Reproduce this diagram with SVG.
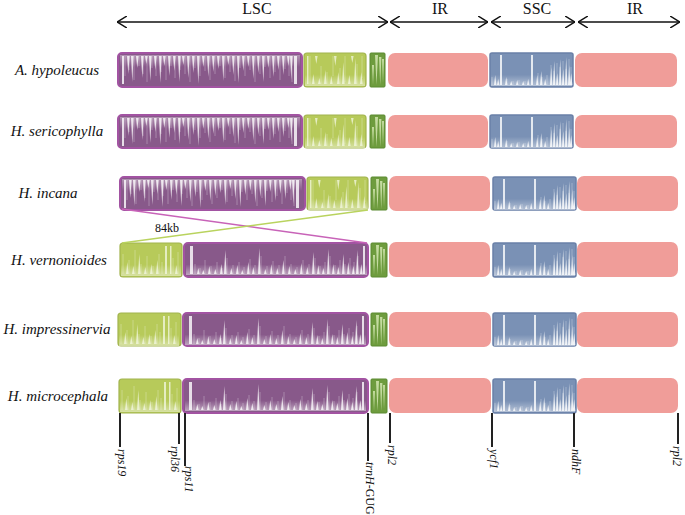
<svg xmlns="http://www.w3.org/2000/svg" width="685" height="515" viewBox="0 0 685 515">
<style>
.lbl{font-family:"Liberation Serif",serif;font-style:italic;font-size:15px;fill:#111}
.hdr{font-family:"Liberation Serif",serif;font-size:16px;fill:#111;text-anchor:middle}
.gene{font-family:"Liberation Serif",serif;font-style:italic;font-size:12px;fill:#111}
.pur{fill:#88598a;stroke:#a253a2;stroke-width:2}
.grn{fill:#b7ca5a;stroke:#a2b44e;stroke-width:1.2}
.dg{fill:#6e9c3e;stroke:#5a8a30;stroke-width:1}
.pk{fill:#f09d99}
.bl{fill:#7a91b5;stroke:#6a80a8;stroke-width:1.5}
.tex{fill:#fff;opacity:0.8}
.texg{fill:#f4f8e4;opacity:0.75}
.thin{stroke:#fff;stroke-width:0.8;opacity:0.35}
.arr{stroke:#111;stroke-width:1.5;fill:none}
.tick{stroke:#222;stroke-width:2}
</style>
<defs>
<marker id="chev" viewBox="0 0 10 12" refX="10" refY="6" markerWidth="10" markerHeight="12" markerUnits="userSpaceOnUse" orient="auto-start-reverse">
<path d="M0,0 L10,6 L0,12" fill="none" stroke="#111" stroke-width="1.5"/>
</marker>
<linearGradient id="gTop" x1="0" y1="0" x2="0" y2="1">
<stop offset="0" stop-color="#fff" stop-opacity="0.35"/>
<stop offset="0.4" stop-color="#fff" stop-opacity="0"/>
</linearGradient>
<linearGradient id="gBot" x1="0" y1="0" x2="0" y2="1">
<stop offset="0.65" stop-color="#fff" stop-opacity="0"/>
<stop offset="1" stop-color="#fff" stop-opacity="0.45"/>
</linearGradient>
<g id="texPA">
<rect x="2" y="2" width="180" height="30" fill="url(#gTop)"/>
<path class="thin" d="M7,3v20 M11,3v14 M16,3v24 M21,3v10 M25,3v18 M29,3v26 M34,3v12 M38,3v20 M43,3v16 M48,3v24 M53,3v10 M57,3v22 M62,3v14 M67,3v18 M72,3v26 M77,3v12 M82,3v20 M87,3v15 M92,3v24 M97,3v18 M102,3v10 M107,3v22 M112,3v16 M117,3v25 M122,3v12 M127,3v20 M132,3v14 M137,3v26 M142,3v18 M147,3v11 M152,3v22 M157,3v16 M162,3v24 M167,3v13 M171,3v20 M174,3v26"/>
<path class="tex" d="M4,3h2v28h-2z M176,3h3v28h-3z M9,3l1.3,18l1.3,-18z M13,3l1.3,26l1.3,-26z M18,3l1.3,12l1.3,-12z M23,3l1.3,22l1.3,-22z M27,3l1.3,8l1.3,-8z M31,3l1.3,25l1.3,-25z M36,3l1.3,14l1.3,-14z M41,3l1.3,27l1.3,-27z M45,3l1.3,10l1.3,-10z M50,3l1.3,20l1.3,-20z M55,3l1.3,15l1.3,-15z M60,3l1.3,26l1.3,-26z M64,3l1.3,9l1.3,-9z M69,3l1.3,22l1.3,-22z M74,3l1.3,17l1.3,-17z M79,3l1.3,28l1.3,-28z M84,3l1.3,11l1.3,-11z M89,3l1.3,21l1.3,-21z M94,3l1.3,16l1.3,-16z M99,3l1.3,13l1.3,-13z M104,3l1.3,25l1.3,-25z M109,3l1.3,9l1.3,-9z M114,3l1.3,19l1.3,-19z M119,3l1.3,27l1.3,-27z M124,3l1.3,15l1.3,-15z M129,3l1.3,11l1.3,-11z M134,3l1.3,23l1.3,-23z M139,3l1.3,17l1.3,-17z M144,3l1.3,26l1.3,-26z M149,3l1.3,12l1.3,-12z M154,3l1.3,21l1.3,-21z M159,3l1.3,14l1.3,-14z M164,3l1.3,19l1.3,-19z M169,3l1.3,10l1.3,-10z M172,3l1.3,24l1.3,-24z"/>
</g>
<g id="texPB">
<rect x="2" y="2" width="181" height="30" fill="url(#gBot)"/>
<path class="thin" d="M11,31v-10 M16,31v-6 M21,31v-14 M27,31v-8 M33,31v-12 M38,31v-6 M43,31v-16 M49,31v-9 M55,31v-12 M60,31v-7 M66,31v-15 M71,31v-9 M77,31v-18 M83,31v-8 M89,31v-13 M95,31v-9 M101,31v-18 M107,31v-10 M113,31v-7 M119,31v-14 M125,31v-10 M131,31v-16 M136,31v-8 M141,31v-12 M146,31v-18 M151,31v-9 M156,31v-14 M161,31v-10 M166,31v-16 M170,31v-12 M174,31v-18"/>
<path class="tex" d="M6,3h3v28h-3z M179,3h2v28h-2z M13,31l1.3,-6l1.3,6z M18,31l1.3,-4l1.3,4z M24,31l1.3,-8l1.3,8z M30,31l1.3,-5l1.3,5z M36,31l1.3,-10l1.3,10z M40,31l1.3,-24l1.3,24z M46,31l1.3,-6l1.3,6z M52,31l1.3,-9l1.3,9z M57,31l1.3,-4l1.3,4z M63,31l1.3,-12l1.3,12z M68,31l1.3,-7l1.3,7z M74,31l1.3,-26l1.3,26z M80,31l1.3,-5l1.3,5z M86,31l1.3,-10l1.3,10z M92,31l1.3,-6l1.3,6z M98,31l1.3,-14l1.3,14z M104,31l1.3,-8l1.3,8z M110,31l1.3,-5l1.3,5z M116,31l1.3,-11l1.3,11z M122,31l1.3,-7l1.3,7z M128,31l1.3,-22l1.3,22z M133,31l1.3,-9l1.3,9z M138,31l1.3,-6l1.3,6z M143,31l1.3,-25l1.3,25z M148,31l1.3,-10l1.3,10z M153,31l1.3,-7l1.3,7z M158,31l1.3,-20l1.3,20z M163,31l1.3,-12l1.3,12z M168,31l1.3,-8l1.3,8z M172,31l1.3,-24l1.3,24z M176,31l1.3,-10l1.3,10z"/>
</g>
<g id="texGA">
<rect x="1" y="1" width="60" height="32" fill="url(#gBot)"/>
<path class="thin" d="M6,3v28 M17,31v-18 M23,31v-12 M29,3v20 M36,31v-16 M41,3v26 M53,31v-20 M58,3v22"/>
<path class="texg" d="M3,3h1.5v28h-1.5z M8,31l1.3,-10l1.3,10z M14,31l1.3,-6l1.3,6z M20,31l1.3,-14l1.3,14z M26,31l1.3,-8l1.3,8z M33,31l1.3,-12l1.3,12z M38,31l1.3,-22l1.3,22z M44,31l1.3,-9l1.3,9z M50,31l1.3,-26l1.3,26z M56,31l1.3,-12l1.3,12z M11,3l1.3,8l1.3,-8z M30,3l1.3,10l1.3,-10z M47,3l1.3,7l1.3,-7z"/>
</g>
<g id="texGB">
<rect x="1" y="1" width="60" height="32" fill="url(#gBot)"/>
<path class="thin" d="M3,31v-20 M9,31v-14 M15,31v-24 M21,31v-10 M27,31v-18 M33,31v-8 M39,31v-20 M42,31v-12 M53,31v-16 M58,31v-22"/>
<path class="texg" d="M45,3h2v28h-2z M50,3h1.5v28h-1.5z M6,31l1.3,-12l1.3,12z M12,31l1.3,-8l1.3,8z M18,31l1.3,-20l1.3,20z M24,31l1.3,-7l1.3,7z M30,31l1.3,-10l1.3,10z M36,31l1.3,-14l1.3,14z M55,31l1.3,-9l1.3,9z"/>
</g>
<g id="texBL">
<rect x="1" y="1" width="81" height="32" fill="url(#gBot)"/>
<path class="thin" d="M2,32v-8 M17,32v-6 M23,32v-4 M29,32v-5 M35,32v-4 M48,32v-12 M52,32v-8 M57,32v-10 M61,32v-20 M64,32v-14 M67,32v-22 M70,32v-18 M73,32v-24 M76,32v-16 M79,32v-26 M81,32v-18"/>
<path class="tex" d="M10,2h2v30h-2z M41,2h2v30h-2z M4,32l1.2,-10l1.2,10z M7,32l1.2,-6l1.2,6z M15,32l1.2,-8l1.2,8z M20,32l1.2,-4l1.2,4z M26,32l1.2,-5l1.2,5z M32,32l1.2,-4l1.2,4z M37,32l1.2,-6l1.2,6z M46,32l1.2,-10l1.2,10z M50,32l1.2,-14l1.2,14z M54,32l1.2,-6l1.2,6z M60,32l1.2,-18l1.2,18z M63,32l1.2,-24l1.2,24z M66,32l1.2,-12l1.2,12z M69,32l1.2,-26l1.2,26z M72,32l1.2,-16l1.2,16z M75,32l1.2,-28l1.2,28z M78,32l1.2,-20l1.2,20z M80,32l1.2,-12l1.2,12z"/>
</g>
<g id="texDG">
<path fill="#d4e6b2" opacity="0.85" d="M5,2l1.5,30l1.5,-30z M9,4l1.2,28l1.2,-28z M12,6l1,24l1,-24z M2,12l1,20l1,-20z"/>
</g>
</defs>
<rect width="685" height="515" fill="#fff"/>

<g id="header">
<line class="arr" x1="117" y1="22" x2="388" y2="22" marker-start="url(#chev)" marker-end="url(#chev)"/>
<line class="arr" x1="390" y1="22" x2="488" y2="22" marker-start="url(#chev)" marker-end="url(#chev)"/>
<line class="arr" x1="491" y1="22" x2="575" y2="22" marker-start="url(#chev)" marker-end="url(#chev)"/>
<line class="arr" x1="578" y1="22" x2="680" y2="22" marker-start="url(#chev)" marker-end="url(#chev)"/>
<text class="hdr" x="257" y="14">LSC</text>
<text class="hdr" x="440" y="14">IR</text>
<text class="hdr" x="537" y="14">SSC</text>
<text class="hdr" x="635" y="14">IR</text>
</g>

<g id="row1">
<text class="lbl" x="57" y="75" text-anchor="middle">A. hypoleucus</text>
<rect class="pur" x="118" y="53" width="184" height="34" rx="4"/><use href="#texPA" x="118" y="53"/>
<rect class="grn" x="304" y="53" width="62" height="34" rx="3"/><use href="#texGA" x="304" y="53"/>
<rect class="dg" x="370" y="53" width="15" height="34" rx="1"/><use href="#texDG" x="370" y="53"/>
<rect class="pk" x="388" y="53" width="100" height="34" rx="7"/>
<rect class="bl" x="490" y="53" width="83" height="34" rx="2"/><use href="#texBL" x="490" y="53"/>
<rect class="pk" x="575" y="53" width="102" height="34" rx="7"/>
</g>

<g id="row2">
<text class="lbl" x="57" y="136" text-anchor="middle">H. sericophylla</text>
<rect class="pur" x="118" y="115" width="184" height="33" rx="4"/><use href="#texPA" x="118" y="115"/>
<rect class="grn" x="304" y="115" width="62" height="33" rx="3"/><use href="#texGA" x="304" y="115"/>
<rect class="dg" x="370" y="115" width="15" height="33" rx="1"/><use href="#texDG" x="370" y="115"/>
<rect class="pk" x="388" y="115" width="100" height="33" rx="7"/>
<rect class="bl" x="490" y="115" width="83" height="33" rx="2"/><use href="#texBL" x="490" y="115"/>
<rect class="pk" x="575" y="115" width="102" height="33" rx="7"/>
</g>

<g id="row3">
<text class="lbl" x="48" y="198" text-anchor="middle">H. incana</text>
<rect class="pur" x="120" y="177" width="185" height="33" rx="4"/><use href="#texPA" x="120" y="177"/>
<rect class="grn" x="307" y="177" width="61" height="33" rx="3"/><use href="#texGA" x="307" y="177"/>
<rect class="dg" x="371" y="177" width="16" height="33" rx="1"/><use href="#texDG" x="371" y="177"/>
<rect class="pk" x="389" y="176" width="101" height="35" rx="7"/>
<rect class="bl" x="493" y="177" width="83" height="33" rx="2"/><use href="#texBL" x="493" y="177"/>
<rect class="pk" x="577" y="176" width="101" height="35" rx="7"/>
</g>

<g id="row4">
<text class="lbl" x="59" y="265" text-anchor="middle">H. vernonioides</text>
<rect class="grn" x="120" y="243" width="62" height="34" rx="3"/><use href="#texGB" x="120" y="243"/>
<rect class="pur" x="184" y="243" width="184" height="34" rx="4"/><use href="#texPB" x="184" y="243"/>
<rect class="dg" x="371" y="243" width="16" height="34" rx="1"/><use href="#texDG" x="371" y="243"/>
<rect class="pk" x="389" y="242" width="101" height="35" rx="7"/>
<rect class="bl" x="493" y="243" width="83" height="34" rx="2"/><use href="#texBL" x="493" y="243"/>
<rect class="pk" x="577" y="242" width="101" height="35" rx="7"/>
</g>

<g id="row5">
<text class="lbl" x="57" y="334" text-anchor="middle">H. impressinervia</text>
<rect class="grn" x="118" y="313" width="63" height="33" rx="3"/><use href="#texGB" x="118" y="313"/>
<rect class="pur" x="183" y="313" width="185" height="33" rx="4"/><use href="#texPB" x="183" y="313"/>
<rect class="dg" x="371" y="313" width="16" height="33" rx="1"/><use href="#texDG" x="371" y="313"/>
<rect class="pk" x="389" y="312" width="102" height="35" rx="7"/>
<rect class="bl" x="493" y="313" width="83" height="33" rx="2"/><use href="#texBL" x="493" y="313"/>
<rect class="pk" x="577" y="312" width="101" height="35" rx="7"/>
</g>

<g id="row6">
<text class="lbl" x="58" y="401" text-anchor="middle">H. microcephala</text>
<rect class="grn" x="119" y="379" width="62" height="34" rx="3"/><use href="#texGB" x="119" y="379"/>
<rect class="pur" x="183" y="379" width="185" height="34" rx="4"/><use href="#texPB" x="183" y="379"/>
<rect class="dg" x="371" y="379" width="16" height="34" rx="1"/><use href="#texDG" x="371" y="379"/>
<rect class="pk" x="389" y="378" width="102" height="35" rx="7"/>
<rect class="bl" x="493" y="379" width="83" height="34" rx="2"/><use href="#texBL" x="493" y="379"/>
<rect class="pk" x="577" y="378" width="101" height="35" rx="7"/>
</g>

<g id="connectors">
<line x1="122" y1="209" x2="367" y2="243" stroke="#c863b8" stroke-width="1.5"/>
<line x1="368" y1="210" x2="122" y2="243" stroke="#b9d35e" stroke-width="1.5"/>
<text x="155" y="232" font-family="Liberation Serif, serif" font-size="12" fill="#111">84kb</text>
</g>

<g id="genes">
<line class="tick" x1="120" y1="413" x2="120" y2="447"/>
<text class="gene" transform="translate(122,449) rotate(90)" dominant-baseline="central">rps19</text>
<line class="tick" x1="179" y1="413" x2="179" y2="444"/>
<text class="gene" transform="translate(175,446) rotate(90)" dominant-baseline="central">rpl36</text>
<line class="tick" x1="185" y1="413" x2="185" y2="466"/>
<text class="gene" transform="translate(189,466) rotate(90)" dominant-baseline="central">rps11</text>
<line class="tick" x1="368" y1="413" x2="368" y2="461"/>
<text class="gene" transform="translate(370,462) rotate(90)" dominant-baseline="central" font-size="11">trnH<tspan font-style="normal">-GUG</tspan></text>
<line class="tick" x1="390" y1="413" x2="390" y2="443"/>
<text class="gene" transform="translate(392,445) rotate(90)" dominant-baseline="central">rpl2</text>
<line class="tick" x1="492" y1="413" x2="492" y2="447"/>
<text class="gene" transform="translate(494,449) rotate(90)" dominant-baseline="central">ycf1</text>
<line class="tick" x1="574" y1="413" x2="574" y2="447"/>
<text class="gene" transform="translate(576,449) rotate(90)" dominant-baseline="central">ndhF</text>
<line class="tick" x1="678" y1="413" x2="678" y2="444"/>
<text class="gene" transform="translate(677,446) rotate(90)" dominant-baseline="central">rpl2</text>
</g>
</svg>
